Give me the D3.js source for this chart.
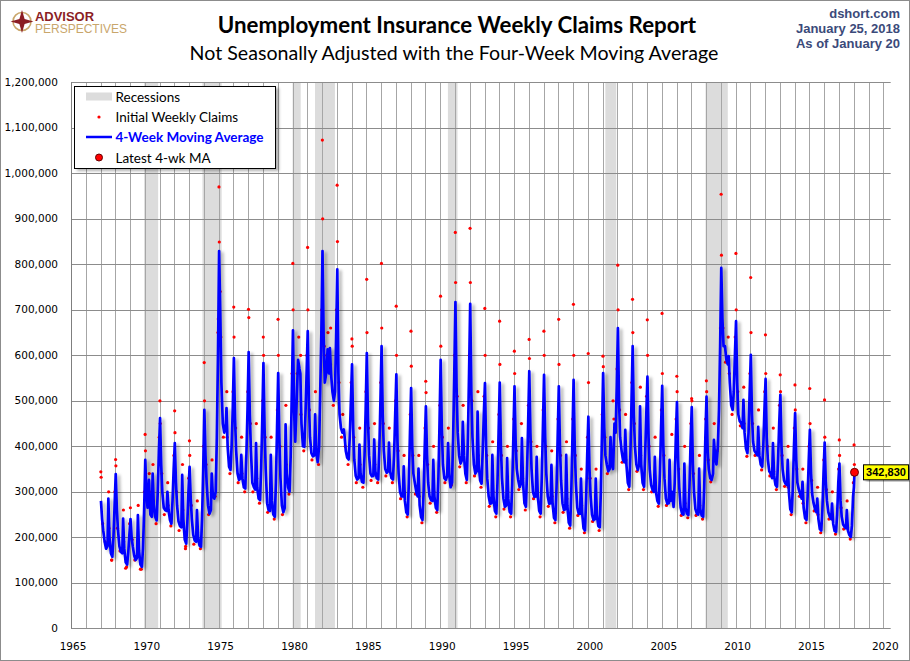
<!DOCTYPE html>
<html>
<head>
<meta charset="utf-8">
<script src="https://cdn.jsdelivr.net/npm/d3@7"></script>
<style>
  body { margin: 0; background: #fff; }
  svg { display: block; }
</style>
</head>
<body>
<script>
var w = 910;
var h = 661;

var maWeeks = [2, 6, 10, 15, 20, 25, 28, 32, 37, 42, 46, 50];
var maYears = d3.range(1967, 2018);
// 4-week moving average, thousands, one row per year
var maRows = [
  [280, 240, 215, 190, 175, 180, 285, 200, 165, 157, 200, 270],
  [339, 260, 215, 180, 168, 165, 241, 175, 145, 140, 165, 205],
  [240, 200, 180, 160, 150, 155, 249, 170, 140, 135, 175, 260],
  [370, 300, 265, 326, 250, 245, 340, 270, 245, 237, 300, 390],
  [462, 360, 300, 265, 260, 258, 300, 260, 238, 230, 280, 350],
  [407, 320, 270, 235, 225, 222, 337, 240, 195, 186, 230, 300],
  [355, 285, 240, 205, 193, 190, 260, 200, 182, 179, 240, 350],
  [480, 380, 320, 270, 252, 260, 340, 290, 285, 300, 420, 600],
  [829, 693, 540, 450, 430, 440, 484, 400, 355, 348, 400, 480],
  [594, 460, 390, 340, 326, 330, 381, 330, 310, 307, 380, 480],
  [607, 470, 390, 320, 311, 305, 407, 310, 285, 282, 350, 460],
  [583, 440, 350, 275, 260, 258, 381, 280, 250, 245, 320, 440],
  [561, 420, 330, 270, 255, 265, 448, 340, 310, 300, 380, 520],
  [655, 480, 410, 500, 590, 570, 560, 450, 400, 399, 470, 560],
  [653, 500, 420, 385, 378, 380, 470, 390, 365, 400, 520, 650],
  [829, 640, 540, 560, 613, 560, 616, 560, 520, 500, 520, 640],
  [789, 560, 470, 440, 430, 437, 420, 390, 375, 371, 420, 500],
  [580, 440, 370, 335, 327, 330, 404, 340, 322, 320, 380, 480],
  [605, 460, 380, 340, 334, 335, 415, 345, 330, 327, 390, 500],
  [620, 470, 390, 350, 342, 345, 408, 345, 330, 327, 380, 470],
  [558, 410, 340, 300, 290, 290, 356, 280, 255, 250, 320, 430],
  [528, 400, 340, 320, 300, 290, 351, 270, 245, 238, 300, 400],
  [488, 380, 320, 290, 282, 280, 370, 290, 265, 260, 330, 450],
  [590, 440, 360, 330, 326, 335, 407, 340, 310, 320, 420, 560],
  [717, 530, 430, 380, 362, 370, 454, 380, 340, 326, 420, 560],
  [713, 520, 420, 360, 340, 345, 476, 360, 325, 318, 390, 470],
  [539, 400, 330, 290, 274, 275, 381, 290, 258, 252, 320, 430],
  [540, 400, 330, 285, 267, 270, 374, 285, 256, 252, 315, 420],
  [532, 410, 350, 326, 310, 320, 418, 320, 275, 267, 340, 450],
  [565, 430, 350, 300, 289, 290, 377, 290, 258, 252, 330, 440],
  [557, 420, 340, 290, 274, 275, 359, 275, 243, 238, 310, 420],
  [532, 400, 325, 275, 260, 262, 381, 270, 232, 226, 300, 420],
  [546, 400, 320, 265, 252, 252, 329, 255, 220, 215, 280, 380],
  [465, 350, 290, 250, 238, 240, 329, 250, 225, 222, 300, 430],
  [561, 440, 380, 360, 345, 350, 420, 360, 350, 450, 430, 530],
  [660, 500, 420, 390, 370, 365, 436, 360, 320, 311, 380, 500],
  [620, 470, 400, 360, 348, 360, 488, 360, 320, 311, 380, 470],
  [553, 420, 350, 315, 304, 300, 377, 300, 280, 274, 340, 440],
  [533, 400, 330, 285, 274, 275, 370, 280, 300, 267, 320, 420],
  [497, 370, 310, 265, 252, 250, 362, 265, 252, 249, 310, 410],
  [486, 360, 300, 262, 252, 250, 351, 262, 248, 245, 310, 420],
  [509, 390, 350, 330, 326, 340, 414, 380, 360, 400, 480, 620],
  [792, 680, 620, 620, 590, 580, 598, 540, 490, 480, 520, 600],
  [675, 540, 470, 455, 451, 440, 502, 430, 395, 385, 430, 520],
  [601, 470, 410, 390, 385, 380, 443, 380, 360, 355, 400, 480],
  [548, 420, 370, 345, 340, 330, 407, 335, 315, 311, 370, 450],
  [513, 400, 350, 325, 318, 315, 370, 300, 262, 255, 310, 400],
  [473, 370, 320, 305, 295, 285, 322, 265, 242, 238, 290, 370],
  [436, 340, 295, 275, 262, 255, 285, 240, 218, 215, 260, 340],
  [408, 320, 280, 255, 245, 240, 274, 230, 214, 212, 250, 320],
  [362, 280, 245, 228, 223, 220, 260, 215, 205, 201, 225, 290]
];
var ma2018Weeks = [1, 3];
var ma2018 = [310, 342.83];

// initial weekly claims that stand out from the average, [year, thousands]
var claimsPeaks = [
  [1967.02, 344], [1967.04, 332], [1967.55, 300], [1967.75, 150],
  [1968.02, 371], [1968.04, 357], [1968.55, 260], [1968.7, 132],
  [1969.02, 265], [1969.55, 270], [1969.7, 130],
  [1970.02, 426], [1970.04, 390], [1970.3, 340], [1970.55, 360],
  [1971.02, 500], [1971.04, 450], [1971.55, 320],
  [1972.02, 478], [1972.04, 430], [1972.55, 360], [1972.75, 175],
  [1973.02, 412], [1973.04, 380], [1973.55, 280],
  [1974.02, 584], [1974.04, 500], [1974.55, 370], [1974.95, 650],
  [1975.02, 970], [1975.04, 849], [1975.1, 740], [1975.55, 520],
  [1976.02, 706], [1976.04, 640], [1976.55, 420],
  [1977.02, 701], [1977.04, 683], [1977.55, 450],
  [1978.02, 640], [1978.04, 600], [1978.55, 420],
  [1979.02, 679], [1979.04, 600], [1979.55, 490],
  [1980.02, 802], [1980.04, 700], [1980.42, 640], [1980.55, 600],
  [1981.02, 837], [1981.04, 700], [1981.55, 520],
  [1982.02, 1073], [1982.04, 900], [1982.4, 650], [1982.58, 660],
  [1983.02, 974], [1983.04, 850], [1983.4, 470],
  [1984.02, 636], [1984.04, 620], [1984.55, 440],
  [1985.02, 767], [1985.04, 650], [1985.55, 450],
  [1986.02, 802], [1986.04, 660], [1986.55, 440],
  [1987.02, 708], [1987.04, 600], [1987.55, 380],
  [1988.02, 653], [1988.04, 576], [1988.55, 380],
  [1989.02, 543], [1989.04, 518], [1989.55, 400],
  [1990.02, 730], [1990.04, 620], [1990.55, 440],
  [1991.02, 870], [1991.04, 760], [1991.55, 490],
  [1992.02, 879], [1992.04, 760], [1992.55, 520],
  [1993.02, 703], [1993.04, 600], [1993.55, 410],
  [1994.02, 675], [1994.04, 580], [1994.55, 400],
  [1995.02, 609], [1995.04, 560], [1995.5, 450],
  [1996.02, 635], [1996.04, 593], [1996.55, 400],
  [1997.02, 653], [1997.04, 600], [1997.55, 390],
  [1998.02, 679], [1998.04, 580], [1998.55, 410],
  [1999.02, 712], [1999.04, 600], [1999.55, 350],
  [2000.02, 604], [2000.04, 540], [2000.55, 350],
  [2001.02, 598], [2001.04, 575], [2001.7, 500],
  [2002.02, 798], [2002.04, 700], [2002.55, 470],
  [2003.02, 723], [2003.04, 650], [2003.55, 530],
  [2004.02, 678], [2004.04, 600], [2004.55, 420],
  [2005.02, 692], [2005.04, 560], [2005.68, 426],
  [2006.02, 554], [2006.04, 520], [2006.55, 400],
  [2007.02, 505], [2007.04, 500], [2007.55, 380],
  [2008.02, 544], [2008.04, 520], [2008.55, 450],
  [2009.02, 954], [2009.04, 820], [2009.5, 640],
  [2010.02, 824], [2010.04, 700], [2010.55, 530],
  [2011.02, 771], [2011.04, 650], [2011.55, 480],
  [2012.02, 645], [2012.04, 560], [2012.55, 440],
  [2013.02, 557], [2013.04, 520], [2013.55, 400],
  [2014.02, 535], [2014.04, 480], [2014.55, 350],
  [2015.02, 527], [2015.04, 450], [2015.55, 310],
  [2016.02, 502], [2016.04, 420], [2016.55, 300],
  [2017.02, 414], [2017.04, 380], [2017.55, 280],
  [2018.02, 403], [2018.04, 360]
];

// more initial claims read near the line, thousands, one row per year
var claimsWeeks = [8, 17, 30, 40, 51];
var claimsRows = [
  [230, 190, 220, 150, 300], [220, 170, 190, 135, 230], [195, 150, 190, 130, 300],
  [290, 300, 280, 230, 420], [340, 250, 270, 225, 380], [300, 215, 260, 180, 330],
  [270, 185, 210, 175, 400], [360, 250, 300, 290, 680], [640, 420, 420, 340, 520],
  [440, 320, 340, 300, 520], [450, 300, 330, 275, 500], [420, 255, 300, 240, 480],
  [400, 250, 360, 295, 560], [460, 560, 470, 390, 600], [480, 370, 400, 360, 700],
  [620, 600, 580, 490, 700], [540, 420, 400, 360, 540], [420, 320, 360, 310, 520],
  [440, 325, 360, 320, 540], [450, 335, 350, 320, 500], [390, 285, 300, 245, 470],
  [380, 295, 290, 232, 440], [360, 275, 300, 255, 490], [420, 320, 350, 315, 600],
  [510, 355, 390, 320, 600], [500, 335, 380, 310, 510], [380, 268, 300, 245, 470],
  [380, 262, 300, 245, 460], [390, 305, 330, 260, 490], [410, 285, 300, 245, 480],
  [400, 268, 290, 232, 460], [380, 255, 285, 220, 460], [380, 248, 270, 210, 420],
  [330, 235, 265, 215, 470], [420, 340, 370, 460, 570], [480, 365, 370, 305, 540],
  [450, 345, 380, 305, 510], [400, 300, 315, 268, 480], [380, 270, 290, 290, 460],
  [350, 248, 275, 243, 450], [340, 248, 270, 240, 460], [370, 322, 390, 390, 660],
  [660, 585, 560, 470, 640], [520, 445, 450, 378, 560], [450, 380, 395, 348, 520],
  [400, 335, 345, 305, 490], [380, 312, 310, 250, 440], [350, 290, 275, 232, 400],
  [325, 258, 250, 210, 370], [305, 240, 240, 207, 350], [265, 218, 222, 196, 320]
];

var recessions = [
  [1969.95, 1970.9], [1973.9, 1975.2], [1980.0, 1980.55], [1981.52, 1982.87],
  [1990.52, 1991.17], [2001.18, 2001.92], [2007.96, 2009.47]
];

var latestDate = 2018.05;
var latestValue = 342830;

var yTicks = d3.range(0, 1200001, 100000);
var xTicks = d3.range(1965, 2021, 5);
var yearLines = d3.range(1966, 2021);

var pLeft = 71, pRight = 890.7, pTop = 82.3, pBottom = 628.3;

var x = d3.scaleLinear().domain([1965, 2020.5]).range([pLeft, pRight]);
var y = d3.scaleLinear().domain([0, 1200000]).range([pBottom, pTop]);

// build the series from the rows
var ma = [];
maYears.forEach(function(yr, i) {
  maWeeks.forEach(function(wk, j) {
    ma.push([yr + (wk - 0.5) / 52, maRows[i][j] * 1000]);
  });
});
ma2018Weeks.forEach(function(wk, j) {
  ma.push([2018 + (wk - 0.5) / 52, ma2018[j] * 1000]);
});

var claims = claimsPeaks.map(function(d) { return [d[0], d[1] * 1000]; });
maYears.forEach(function(yr, i) {
  claimsWeeks.forEach(function(wk, j) {
    claims.push([yr + (wk - 0.5) / 52, claimsRows[i][j] * 1000]);
  });
});

var svg = d3.select("body")
  .append("svg")
  .attr("width", w)
  .attr("height", h)
  .style("font-family", "Lato, sans-serif");

var defs = svg.append("defs");
defs.append("filter")
  .attr("id", "shadow")
  .attr("x", "-5%").attr("y", "-5%").attr("width", "115%").attr("height", "115%")
  .append("feDropShadow")
  .attr("dx", 3).attr("dy", 2)
  .attr("stdDeviation", 1.5)
  .attr("flood-color", "#000")
  .attr("flood-opacity", 0.3);
defs.append("clipPath")
  .attr("id", "plot")
  .append("rect")
  .attr("x", pLeft).attr("y", pTop - 1)
  .attr("width", pRight - pLeft).attr("height", pBottom - pTop + 1);

// frame
svg.append("rect")
  .attr("x", 0.5).attr("y", 0.5)
  .attr("width", w - 1).attr("height", h - 1)
  .attr("fill", "#fff")
  .attr("stroke", "#8c8c8c");

// recession bands
svg.append("g")
  .selectAll("rect")
  .data(recessions)
  .enter()
  .append("rect")
  .attr("x", function(d) { return x(d[0]); })
  .attr("width", function(d) { return x(d[1]) - x(d[0]); })
  .attr("y", pTop)
  .attr("height", pBottom - pTop)
  .attr("fill", "#dcdcdc");

// grid
svg.append("g")
  .selectAll("line")
  .data(yearLines)
  .enter()
  .append("line")
  .attr("x1", function(d) { return Math.round(x(d)) + 0.5; })
  .attr("x2", function(d) { return Math.round(x(d)) + 0.5; })
  .attr("y1", pTop)
  .attr("y2", pBottom)
  .attr("stroke", "#a6a6a6")
  .attr("stroke-width", 1);

svg.append("g")
  .selectAll("line")
  .data(yTicks)
  .enter()
  .append("line")
  .attr("x1", pLeft)
  .attr("x2", pRight)
  .attr("y1", function(d) { return Math.round(y(d)) + 0.5; })
  .attr("y2", function(d) { return Math.round(y(d)) + 0.5; })
  .attr("stroke", "#8c8c8c")
  .attr("stroke-width", 1);

svg.append("line")
  .attr("x1", Math.round(pLeft) + 0.5).attr("x2", Math.round(pLeft) + 0.5)
  .attr("y1", pTop).attr("y2", pBottom)
  .attr("stroke", "#7f7f7f");

// axis labels
svg.append("g")
  .selectAll("text")
  .data(yTicks)
  .enter()
  .append("text")
  .attr("x", 58)
  .attr("y", function(d) { return y(d); })
  .attr("dy", "0.35em")
  .attr("text-anchor", "end")
  .style("font-family", "'DejaVu Sans', sans-serif")
  .style("font-size", "10.5px")
  .attr("fill", "#000")
  .text(d3.format(","));

svg.append("g")
  .selectAll("text")
  .data(xTicks)
  .enter()
  .append("text")
  .attr("x", function(d) { return x(d) + 2; })
  .attr("y", 650)
  .attr("text-anchor", "middle")
  .style("font-family", "'DejaVu Sans', sans-serif")
  .style("font-size", "10.5px")
  .attr("fill", "#000")
  .text(function(d) { return d; });

var plot = svg.append("g").attr("clip-path", "url(#plot)");

// initial claims dots
plot.append("g")
  .selectAll("circle")
  .data(claims)
  .enter()
  .append("circle")
  .attr("cx", function(d) { return x(d[0]); })
  .attr("cy", function(d) { return y(d[1]); })
  .attr("r", 1.6)
  .attr("fill", "#ff0000");

// moving average line
var line = d3.line()
  .x(function(d) { return x(d[0]); })
  .y(function(d) { return y(d[1]); });

plot.append("path")
  .datum(ma)
  .attr("d", line)
  .attr("fill", "none")
  .attr("stroke", "#0000ff")
  .attr("stroke-width", 2.7)
  .attr("stroke-linejoin", "round")
  .attr("filter", "url(#shadow)");

// latest value marker and label
svg.append("circle")
  .attr("cx", x(latestDate))
  .attr("cy", y(latestValue))
  .attr("r", 4)
  .attr("fill", "#ff0000")
  .attr("stroke", "#600")
  .attr("stroke-width", 1);

var lab = svg.append("g")
  .attr("transform", "translate(" + (x(latestDate) + 9) + "," + y(latestValue) + ")");
lab.append("rect")
  .attr("x", 0).attr("y", -7.5)
  .attr("width", 45).attr("height", 15)
  .attr("fill", "#ffff00")
  .attr("stroke", "#000")
  .attr("filter", "url(#shadow)");
lab.append("text")
  .attr("x", 22.5).attr("y", 0).attr("dy", "0.36em")
  .attr("text-anchor", "middle")
  .style("font-family", "'Liberation Sans', Arial, sans-serif")
  .style("font-size", "11px")
  .style("font-weight", "bold")
  .text(d3.format(",")(latestValue));

// legend
var lg = svg.append("g").attr("transform", "translate(74.5,86.5)");
lg.append("rect")
  .attr("width", 201).attr("height", 82)
  .attr("fill", "#fff")
  .attr("stroke", "#000")
  .attr("filter", "url(#shadow)");
lg.append("rect")
  .attr("x", 11.5).attr("y", 6)
  .attr("width", 26).attr("height", 8)
  .attr("fill", "#dcdcdc");
lg.append("circle")
  .attr("cx", 24.5).attr("cy", 30.5)
  .attr("r", 1.6)
  .attr("fill", "#ff0000");
lg.append("line")
  .attr("x1", 11.5).attr("x2", 37.5)
  .attr("y1", 50.5).attr("y2", 50.5)
  .attr("stroke", "#0000ff")
  .attr("stroke-width", 2.5);
lg.append("circle")
  .attr("cx", 24.5).attr("cy", 71)
  .attr("r", 3.5)
  .attr("fill", "#ff0000")
  .attr("stroke", "#600");

var legendText = ["Recessions", "Initial Weekly Claims", "4-Week Moving Average", "Latest 4-wk MA"];
lg.selectAll("text.leg")
  .data(legendText)
  .enter()
  .append("text")
  .attr("class", "leg")
  .attr("x", 41)
  .attr("y", function(d, i) { return 10.5 + i * 20.3; })
  .attr("dy", "0.35em")
  .style("font-size", "13.5px")
  .style("font-weight", function(d, i) { return i == 2 ? "bold" : "normal"; })
  .attr("fill", function(d, i) { return i == 2 ? "#0000ff" : "#000"; })
  .text(function(d) { return d; });

// titles
svg.append("text")
  .attr("x", 457).attr("y", 33)
  .attr("text-anchor", "middle")
  .style("font-size", "22.3px")
  .style("font-weight", "bold")
  .text("Unemployment Insurance Weekly Claims Report");

svg.append("text")
  .attr("x", 454).attr("y", 60)
  .attr("text-anchor", "middle")
  .style("font-size", "19.6px")
  .text("Not Seasonally Adjusted with the Four-Week Moving Average");

svg.append("g")
  .selectAll("text")
  .data(["dshort.com", "January 25, 2018", "As of January 20"])
  .enter()
  .append("text")
  .attr("x", 900)
  .attr("y", function(d, i) { return 17.5 + i * 15.2; })
  .attr("text-anchor", "end")
  .style("font-family", "'Liberation Sans', Arial, sans-serif")
  .style("font-size", "13px")
  .style("font-weight", "bold")
  .attr("fill", "#3b4a7a")
  .text(function(d) { return d; });

// logo
var logo = svg.append("g").attr("transform", "translate(22,21.5)");
logo.append("circle")
  .attr("r", 9)
  .attr("fill", "none")
  .attr("stroke", "#c9a66b")
  .attr("stroke-width", 1.6);
logo.append("path")
  .attr("d", "M0,-11.5 L2.6,-2.6 L11.5,0 L2.6,2.6 L0,11.5 L-2.6,2.6 L-11.5,0 L-2.6,-2.6 Z")
  .attr("fill", "#8b1d24");
svg.append("text")
  .attr("x", 35).attr("y", 20.5)
  .attr("textLength", 59)
  .attr("lengthAdjust", "spacingAndGlyphs")
  .style("font-family", "'Liberation Sans', Arial, sans-serif")
  .style("font-size", "12.5px")
  .style("font-weight", "bold")
  .attr("fill", "#8b1d24")
  .text("ADVISOR");
svg.append("text")
  .attr("x", 35).attr("y", 33)
  .attr("textLength", 92)
  .attr("lengthAdjust", "spacingAndGlyphs")
  .style("font-family", "'Liberation Sans', Arial, sans-serif")
  .style("font-size", "12.5px")
  .attr("fill", "#c9a66b")
  .text("PERSPECTIVES");
</script>
</body>
</html>
